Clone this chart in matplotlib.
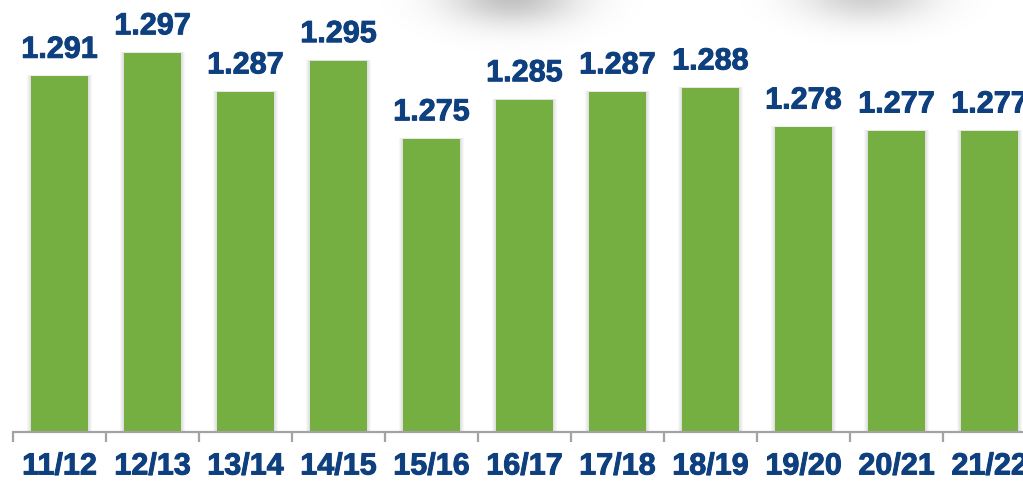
import numpy as np
import matplotlib
matplotlib.use("Agg")
import matplotlib.pyplot as plt
import matplotlib.patheffects as pe
from matplotlib.patches import Rectangle

seasons = ["11/12", "12/13", "13/14", "14/15", "15/16", "16/17",
           "17/18", "18/19", "19/20", "20/21", "21/22"]
values = [1.291, 1.297, 1.287, 1.295, 1.275, 1.285,
          1.287, 1.288, 1.278, 1.277, 1.277]
value_labels = ["1.291", "1.297", "1.287", "1.295", "1.275", "1.285",
                "1.287", "1.288", "1.278", "1.277", "1.277"]

BAR_GREEN = "#75AE41"
LABEL_BLUE = "#0E3F7E"
AXIS_GRAY = "#A3A3A3"

W, H = 1023, 482
fig = plt.figure(figsize=(W / 100, H / 100), dpi=100)
fig.patch.set_facecolor("white")

# soft grey halos along the top edge
bg = fig.add_axes([0, 0, 1, 1], zorder=0)
yy, xx = np.mgrid[0:H, 0:W]
shade = np.zeros((H, W))
for cx, cy, sx, sy, peak in [(512, -4, 46, 20, 0.24), (866, -6, 46, 19, 0.19)]:
    shade += peak * np.exp(-(((xx - cx) / sx) ** 2 + ((yy - cy) / sy) ** 2) / 2)
rgba = np.zeros((H, W, 4))
rgba[..., 3] = np.clip(shade, 0, 1)
bg.imshow(rgba, extent=(0, W, H, 0), aspect="auto", interpolation="bilinear")
bg.set_xlim(0, W)
bg.set_ylim(H, 0)
bg.axis("off")

slot = 93
left_px = 13
base_px = 432
ax = fig.add_axes([left_px / W, (H - base_px) / H, len(seasons) * slot / W, base_px / H],
                  zorder=1)
ax.patch.set_alpha(0)

x = np.arange(len(seasons))
ymin, ymax = 1.2, 1.3105
bw = 0.615
px = 1 / slot
py = (ymax - ymin) / base_px

# soft shadow around each bar, strongest next to the bar edge
for xi, v in zip(x, values):
    for k in range(1, 5):
        ax.add_patch(Rectangle((xi - bw / 2 - k * px, ymin), bw + 2 * k * px,
                               v - ymin + 0.25 * k * py, facecolor="black",
                               alpha=0.03, edgecolor="none", zorder=1))

ax.bar(x, [v - ymin for v in values], bottom=ymin, width=bw,
       color=BAR_GREEN, edgecolor="none", zorder=2)

heavy = [pe.withStroke(linewidth=0.7, foreground=LABEL_BLUE)]
for xi, v, lab in zip(x, values, value_labels):
    ax.annotate(lab, (xi, v), xytext=(0, 13.3), textcoords="offset points",
                ha="center", va="baseline", fontsize=22, fontweight="bold",
                color=LABEL_BLUE, family="Liberation Sans", zorder=3,
                annotation_clip=False, path_effects=heavy)

ax.set_xlim(-0.5, len(seasons) - 0.5)
ax.set_ylim(ymin, ymax)

for side in ["top", "right", "left"]:
    ax.spines[side].set_visible(False)
ax.spines["bottom"].set_color(AXIS_GRAY)
ax.spines["bottom"].set_linewidth(1.6)
ax.set_yticks([])

ax.set_xticks(x)
ax.set_xticklabels(seasons, fontsize=22, fontweight="bold", color=LABEL_BLUE,
                   family="Liberation Sans")
for t in ax.get_xticklabels():
    t.set_path_effects(heavy)
ax.tick_params(axis="x", which="major", length=0, pad=14)
ax.set_xticks(np.arange(-0.5, len(seasons), 1), minor=True)
ax.tick_params(axis="x", which="minor", length=7, width=1.6, color=AXIS_GRAY)

fig.savefig("out.png", dpi=100, facecolor="white")
